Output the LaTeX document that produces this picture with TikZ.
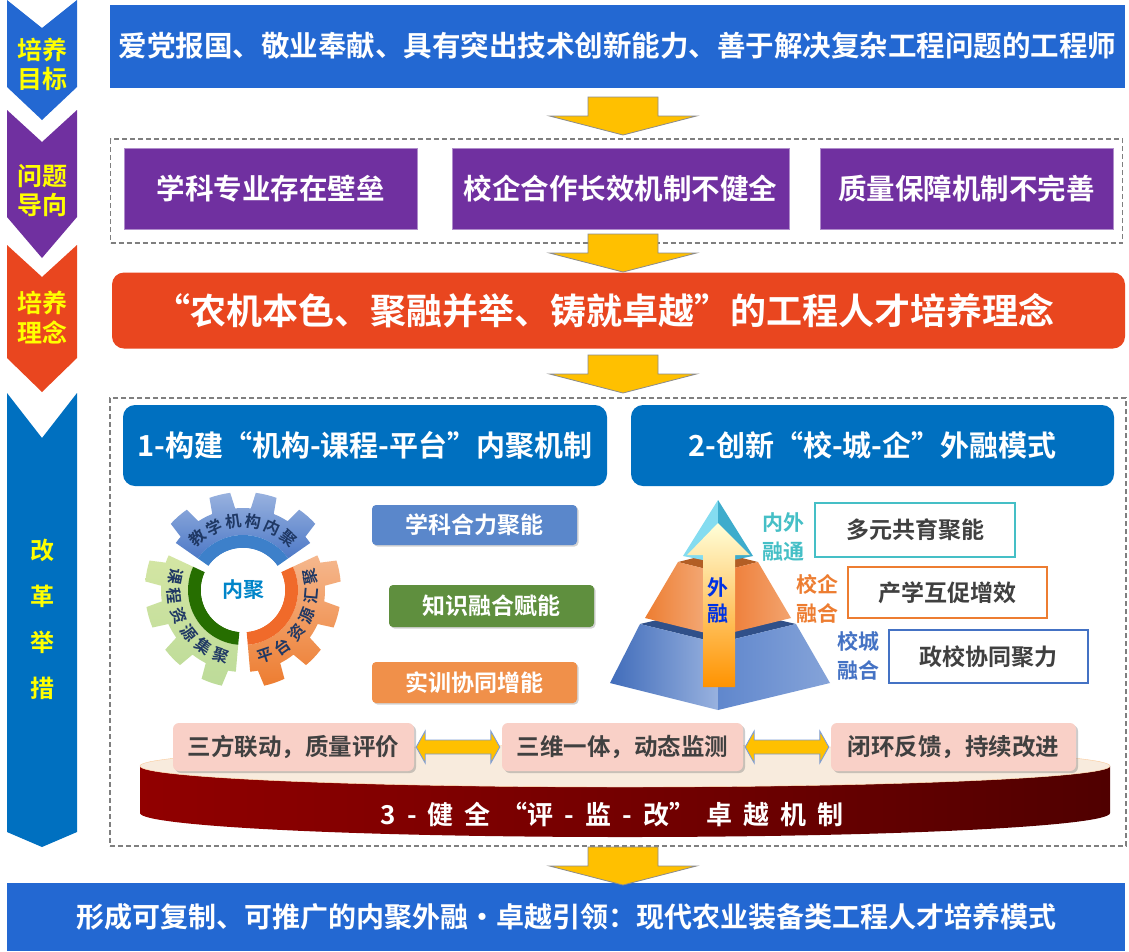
\documentclass[tikz,border=0pt]{standalone}
\usepackage{fontspec}
\setmainfont{Noto Sans CJK SC}[BoldFont={* Bold}]
\usetikzlibrary{shadows,calc}
\pgfdeclarelayer{bg}
\pgfsetlayers{bg,main}
\definecolor{topblue}{HTML}{2368D2}
\definecolor{purp}{HTML}{7030A0}
\definecolor{redor}{HTML}{E9461F}
\definecolor{midblue}{HTML}{0070C0}
\definecolor{ayellow}{HTML}{FFC000}
\definecolor{dgray}{HTML}{7F7F7F}
\definecolor{chevtext}{HTML}{FFFF00}
\definecolor{gearnavy}{HTML}{1F3864}
\definecolor{fanblue}{HTML}{DAE8F6}
\definecolor{boxblue}{HTML}{5A87CB}
\definecolor{boxgreen}{HTML}{5F8F3E}
\definecolor{boxorange}{HTML}{F0904A}
\definecolor{tealc}{HTML}{45BFC6}
\definecolor{orc}{HTML}{ED7D31}
\definecolor{blc}{HTML}{4472C4}
\definecolor{txtgray}{HTML}{404040}
\definecolor{pinkbox}{HTML}{F9D0C7}
\definecolor{cream}{HTML}{F8EBDD}
\definecolor{pfA}{HTML}{FF1A1A}
\definecolor{pfB}{HTML}{A00000}
\definecolor{pfC}{HTML}{6E0000}
\definecolor{pfD}{HTML}{2A0000}
\pgfdeclarehorizontalshading{platform}{100bp}{color(0bp)=(pfA); color(12bp)=(pfB); color(55bp)=(pfC); color(100bp)=(pfD)}
\newcommand{\bfz}[1]{\bfseries\fontsize{#1pt}{#1pt}\selectfont}
\newcommand{\bfzz}[2]{\bfseries\fontsize{#1pt}{#2pt}\selectfont}
\newcommand{\lsp}{\hspace{11pt}}
\newcommand{\gearsector}[4]{%
  \shade[top color=#2, bottom color=#3] (#1:55) -- (#1:82)
    \foreach \k in {0,...,3} {
      arc[start angle={#1+27.5*\k}, end angle={#1+27.5*\k+5.5}, radius=82]
      -- ({#1+27.5*\k+7.5}:98)
      arc[start angle={#1+27.5*\k+7.5}, end angle={#1+27.5*\k+20}, radius=98]
      -- ({#1+27.5*\k+22}:82)
      arc[start angle={#1+27.5*\k+22}, end angle={#1+27.5*\k+27.5}, radius=82]
    }
    -- ({#1+110}:55) arc[start angle={#1+110}, end angle={#1}, radius=55] -- cycle;
  \fill[#4] (#1:42) -- (#1:55) arc[start angle={#1}, end angle={#1+110}, radius=55]
    -- ({#1+110}:42) arc[start angle={#1+110}, end angle={#1}, radius=42] -- cycle;
}
\begin{document}
\begin{tikzpicture}[x=1pt,y=1pt,
  yarrow/.style={fill=ayellow, draw=gray!90, line width=0.8pt},
  pics/downarrow/.style={code={\draw[yarrow] (-35,0) -- (35,0) -- (35,-19) -- (73.5,-19) -- (0,-38) -- (-73.5,-19) -- (-35,-19) -- cycle;}},
  dashbox/.style={draw=dgray, line width=1.3pt, dash pattern=on 5pt off 3pt, inner sep=0pt},
  chevlabel/.style={text=chevtext, align=center, inner sep=0pt},
  purpbox/.style={fill=purp, draw=purp!55!white, line width=0.6pt, minimum height=81pt, text=white, font=\bfz{28.5}, inner sep=0pt},
  headbox/.style={fill=midblue, rounded corners=12pt, minimum height=81pt, text=white, font=\bfz{29}, inner sep=0pt},
  sidebox/.style={rounded corners=4pt, minimum width=205pt, text=white, font=\bfz{23}, inner sep=0pt,
     drop shadow={shadow xshift=1.5pt, shadow yshift=-1.5pt, opacity=0.35}},
  geartext/.style={text=gearnavy, font=\bfz{16}, inner sep=0pt},
  lab/.style={align=center, font=\bfzz{21}{29}, inner sep=0pt},
  rbox/.style={fill=white, line width=1.4pt, text=txtgray, font=\bfz{23}, inner sep=0pt},
  pinkb/.style={fill=pinkbox, rounded corners=6pt, minimum height=48pt, text=txtgray, font=\bfz{23.5}, inner sep=0pt,
     drop shadow={shadow xshift=2pt, shadow yshift=-2pt, opacity=0.4}},
  darrow/.style={fill=ayellow, draw=blc!70!white, line width=0.9pt}
]
\useasboundingbox (0,0) rectangle (1129,-951);
\fill[white] (0,0) rectangle (1129,-951);

% ---------- left chevrons ----------
\fill[topblue] (7,0) -- (42,-28) -- (77,0) -- (77,-87) -- (42,-120) -- (7,-87) -- cycle;
\fill[purp] (7,-110) -- (42,-142) -- (77,-110) -- (77,-217) -- (42,-258) -- (7,-217) -- cycle;
\fill[redor] (7,-245) -- (42,-277) -- (77,-245) -- (77,-358) -- (42,-392) -- (7,-358) -- cycle;
\fill[midblue] (7,-393) -- (42,-438) -- (77,-393) -- (77,-832) -- (42,-847) -- (7,-832) -- cycle;
\node[chevlabel, font=\bfzz{25}{29}] (c1) at (42,-64) {培养\\目标};
\node[chevlabel, font=\bfzz{25}{29}] (c2) at (42,-191) {问题\\导向};
\node[chevlabel, font=\bfzz{25}{30}] (c3) at (42,-318) {培养\\理念};
\node[chevlabel, font=\bfzz{24}{46}] (c4) at (42,-619) {改\\革\\举\\措};

% ---------- top rows ----------
\node[fill=topblue, minimum width=1015pt, minimum height=83pt, inner sep=0pt, text=white, font=\bfz{28.5}] (goal) at (617.5,-46) {爱党报国、敬业奉献、具有突出技术创新能力、善于解决复杂工程问题的工程师};

\node[dashbox, minimum width=1012pt, minimum height=104pt] (probframe) at (616.5,-191) {};
\node[purpbox, minimum width=293pt] (p1) at (270.5,-188.5) {学科专业存在壁垒};
\node[purpbox, minimum width=337pt] (p2) at (620.5,-188.5) {校企合作长效机制不健全};
\node[purpbox, minimum width=293pt] (p3) at (966.5,-188.5) {质量保障机制不完善};

\node[fill=redor, rounded corners=12pt, minimum width=1013pt, minimum height=76pt, inner sep=0pt] (idea) at (618.5,-310.5) {};
\node[text=white, font=\bfz{36}, inner sep=0pt] (ideatext) at ($(idea.center)+(-14,0)$) {“农机本色、聚融并举、铸就卓越”的工程人才培养理念};

\node[dashbox, minimum width=1016pt, minimum height=448pt] (reformframe) at (618,-622) {};
\node[headbox, minimum width=484pt] (h1) at (365,-445.5) {1-构建“机构-课程-平台”内聚机制};
\node[headbox, minimum width=483pt] (h2) at (872.5,-445.5) {2-创新“校-城-企”外融模式};

\node[fill=topblue, minimum width=1118pt, minimum height=68pt, inner sep=0pt, text=white, font=\bfz{28}] (result) at (566,-917) {形成可复制、可推广的内聚外融•卓越引领：现代农业装备类工程人才培养模式};

% ---------- block arrows ----------
\pic at (623,-97) {downarrow};
\pic at (623,-234) {downarrow};
\pic at (623,-355) {downarrow};
\pic at (623,-847) {downarrow};

% ---------- side boxes (inner) ----------
\node[sidebox, fill=boxblue, minimum height=40pt] (s1) at (474.5,-525) {学科合力聚能};
\node[sidebox, fill=boxgreen, minimum height=42pt] (s2) at (491.5,-606) {知识融合赋能};
\node[sidebox, fill=boxorange, minimum height=41pt] (s3) at (474.5,-682.5) {实训协同增能};

\begin{pgfonlayer}{bg}
\fill[fanblue] (326,-530) .. controls (350,-522) and (360,-508) .. (s1.north west) -- (s1.south west) .. controls (362,-550) and (354,-562) .. (350,-578) -- cycle;
\fill[fanblue] (352,-580) .. controls (366,-582) and (376,-587) .. (s2.north west) -- (s2.south west) .. controls (376,-625) and (366,-632) .. (352,-634) -- cycle;
\fill[fanblue] (349,-637) .. controls (353,-650) and (360,-660) .. (s3.north west) -- (s3.south west) .. controls (358,-702) and (345,-692) .. (335,-684) -- cycle;
\end{pgfonlayer}

% ---------- gear ----------
\begin{scope}[shift={(243,-590)}]
\gearsector{35}{blc!55!white}{blc!95!white}{blc!90!cyan}
\gearsector{155}{green!25!lime!20!white!80!olive}{green!30!olive!40!white}{green!40!black!70!olive}
\gearsector{275}{orc!55!white}{orc}{orc!85!red}
\fill[white] (0,0) circle (42);
\node[text=midblue!85!cyan, font=\bfz{21}, inner sep=0pt] (neiju) at (0,0) {内聚};
\foreach \ch [count=\i from 0] in {教,学,机,构,内,聚}
  \node[geartext, rotate={131.25-16.5*\i-90}] (ga\i) at ({131.25-16.5*\i}:69) {\ch};
\foreach \ch [count=\i from 0] in {课,程,资,源,集,聚}
  \node[geartext, rotate={168.75+16.5*\i+90}] (gb\i) at ({168.75+16.5*\i}:69) {\ch};
\foreach \ch [count=\i from 0] in {平,台,资,源,汇,聚}
  \node[geartext, rotate={288.75+16.5*\i+90}] (gc\i) at ({288.75+16.5*\i}:69) {\ch};
\end{scope}

% ---------- pyramid ----------
\fill[blc!70!black] (640,-624) -- (718,-606) -- (796,-624) -- (718,-643) -- cycle;
\shade[left color=blc!95!black, right color=blc!55!white] (640,-624) -- (718,-643) -- (718,-710) -- (610,-683) -- cycle;
\shade[left color=blc!85!white, right color=blc!65!white] (718,-643) -- (796,-624) -- (830,-683) -- (718,-710) -- cycle;
\fill[orc!75!black] (678,-562) -- (718,-552) -- (758,-562) -- (718,-572) -- cycle;
\shade[left color=orc, right color=orc!60!white] (678,-562) -- (718,-572) -- (718,-636) -- (645,-618) -- cycle;
\shade[left color=orc!95!red, right color=orc!70!white] (718,-572) -- (758,-562) -- (791,-618) -- (718,-636) -- cycle;
\fill[blc!45!cyan!55!white] (718,-500) -- (683,-556) -- (718,-563) -- cycle;
\fill[tealc!90!blue] (718,-500) -- (718,-563) -- (753,-556) -- cycle;
\shade[top color=yellow!15!white, middle color=green!45!teal!60!white, bottom color=orange!85!yellow]
  (703,-687) -- (703,-555) -- (687,-555) -- (718,-523) -- (750,-555) -- (735,-555) -- (735,-687) -- cycle;
\node[align=center, font=\bfzz{21}{26}, text=blue!55!midblue, inner sep=0pt] (wairong) at (718,-600) {外\\融};

\node[lab, text=tealc] (l1) at (783,-536.5) {内外\\融通};
\node[lab, text=orc] (l2) at (817,-598.5) {校企\\融合};
\node[lab, text=blc] (l3) at (858,-656) {校城\\融合};
\node[rbox, draw=tealc, minimum width=200pt, minimum height=54pt] (r1) at (915,-530) {多元共育聚能};
\node[rbox, draw=orc, minimum width=199pt, minimum height=51pt] (r2) at (947.5,-592.5) {产学互促增效};
\node[rbox, draw=blc, minimum width=199pt, minimum height=53pt] (r3) at (988.5,-656.5) {政校协同聚力};

% ---------- platform ----------
\shade[shading=platform] (140,-766) -- (140,-813) arc[start angle=180, end angle=360, x radius=485, y radius=24]
   -- (1110,-766) arc[start angle=0, end angle=-180, x radius=485, y radius=21] -- cycle;
\fill[cream, draw=orange!30!cream] (625,-766) ellipse [x radius=485, y radius=21];
\node[text=white, font=\bfz{26}, inner sep=0pt] (plat) at (612,-815) {3\lsp{}-\lsp{}健\lsp{}全\lsp{}“评\lsp{}-\lsp{}监\lsp{}-\lsp{}改”\lsp{}卓\lsp{}越\lsp{}机\lsp{}制};

\node[pinkb, minimum width=241pt] (b1) at (293.5,-747) {三方联动，质量评价};
\node[pinkb, minimum width=241pt] (b2) at (622.5,-747) {三维一体，动态监测};
\node[pinkb, minimum width=245pt] (b3) at (953.5,-747) {闭环反馈，持续改进};

\draw[darrow] let \p1=(b1.east), \p2=(b2.west) in
  (\x1+2pt,\y1) -- (\x1+11pt,\y1+16pt) -- (\x1+11pt,\y1+7pt) -- (\x2-11pt,\y1+7pt) -- (\x2-11pt,\y1+16pt)
  -- (\x2-2pt,\y1) -- (\x2-11pt,\y1-16pt) -- (\x2-11pt,\y1-7pt) -- (\x1+11pt,\y1-7pt) -- (\x1+11pt,\y1-16pt) -- cycle;
\draw[darrow] let \p1=(b2.east), \p2=(b3.west) in
  (\x1+2pt,\y1) -- (\x1+11pt,\y1+16pt) -- (\x1+11pt,\y1+7pt) -- (\x2-11pt,\y1+7pt) -- (\x2-11pt,\y1+16pt)
  -- (\x2-2pt,\y1) -- (\x2-11pt,\y1-16pt) -- (\x2-11pt,\y1-7pt) -- (\x1+11pt,\y1-7pt) -- (\x1+11pt,\y1-16pt) -- cycle;
\end{tikzpicture}
\end{document}
